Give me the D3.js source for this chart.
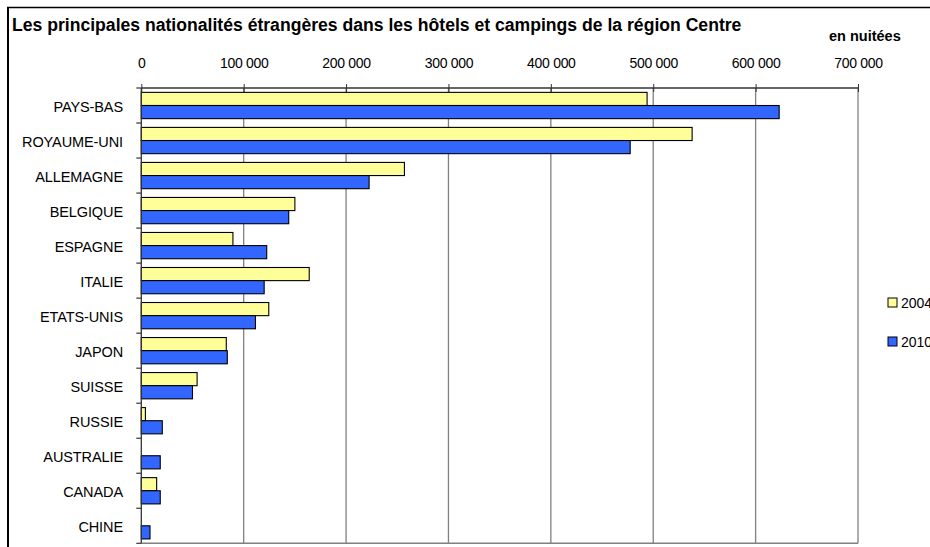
<!DOCTYPE html>
<html><head><meta charset="utf-8">
<script src="https://cdn.jsdelivr.net/npm/d3@7"></script>
<style>body{margin:0;background:#fff}svg{display:block}text{font-family:Arial,"Liberation Sans",sans-serif}</style>
</head><body><svg id="c" width="930" height="547"></svg>
<script>
const categories = ["PAYS-BAS","ROYAUME-UNI","ALLEMAGNE","BELGIQUE","ESPAGNE","ITALIE","ETATS-UNIS","JAPON","SUISSE","RUSSIE","AUSTRALIE","CANADA","CHINE"];
const values2004 = [494000,538000,257000,150000,89500,164000,124500,83000,54500,4000,0,15000,0];
const values2010 = [623000,477500,222500,144000,122500,120000,111500,84000,50000,20500,18500,18500,8500];
const seriesNames = ["2004","2010"];
const seriesColors = ["#FFFF99","#3366FF"];
const xTicks = [0,100000,200000,300000,400000,500000,600000,700000];
const title = "Les principales nationalités étrangères dans les hôtels et campings de la région Centre";
const unitLabel = "en nuitées";

const svg = d3.select("#c");
const L = 141.3, R = 858, T = 88, B = 543.3;
const x = d3.scaleLinear().domain([0,700000]).range([L,R]);
const y = d3.scaleBand().domain(categories).range([T,B]).paddingInner(0.25).paddingOuter(0.125);
const ySub = d3.scaleBand().domain(seriesNames).range([0,y.bandwidth()]);
const fmt = v => d3.format(",")(v).replace(/,/g," ");

// outer frame
svg.append("line").attr("x1",8).attr("x2",8).attr("y1",7).attr("y2",547).attr("stroke","#000").attr("stroke-width",2);
svg.append("line").attr("x1",7).attr("x2",930).attr("y1",7.5).attr("y2",7.5).attr("stroke","#000").attr("stroke-width",1.5);

// title
svg.append("text").attr("x",12).attr("y",30.5).attr("font-size",17.6).attr("font-weight","bold").text(title);
svg.append("text").attr("x",829).attr("y",40.5).attr("font-size",14.5).attr("font-weight","bold").text(unitLabel);

// gridlines
svg.append("g").selectAll("line").data(xTicks.slice(1)).join("line")
  .attr("x1",d=>x(d)).attr("x2",d=>x(d)).attr("y1",T).attr("y2",B)
  .attr("stroke","#808080").attr("stroke-width",1.3);
svg.append("line").attr("x1",L).attr("x2",R).attr("y1",B).attr("y2",B).attr("stroke","#808080").attr("stroke-width",1.5);

// bars
const g = svg.append("g");
categories.forEach((c,i)=>{
  [values2004[i], values2010[i]].forEach((v,k)=>{
    if (v<=0) return;
    g.append("rect").attr("x",x(0)).attr("y",y(c)+ySub(seriesNames[k]))
     .attr("width",x(v)-x(0)).attr("height",ySub.bandwidth())
     .attr("fill",seriesColors[k]).attr("stroke","#000").attr("stroke-width",1.1);
  });
});

// top axis
const xa = svg.append("g").attr("transform",`translate(0,${T})`)
  .call(d3.axisTop(x).tickValues(xTicks).tickFormat(fmt).tickSize(4).tickPadding(16));
xa.select(".domain").attr("stroke","#333").attr("stroke-width",1.3).attr("d",`M${L},0H${R}`);
xa.selectAll(".tick line").attr("stroke","#333").attr("y2",-4).attr("y1",4);
xa.selectAll(".tick text").attr("font-size",14).attr("fill","#000").attr("font-family","Arial, 'Liberation Sans', sans-serif").attr("letter-spacing","-0.3");

// left axis
svg.append("line").attr("x1",L).attr("x2",L).attr("y1",T).attr("y2",B).attr("stroke","#333").attr("stroke-width",1.3);
const bounds = categories.map(c=>y(c)-y.step()*y.paddingInner()/2).concat([B]);
svg.append("g").selectAll("line").data(bounds).join("line")
  .attr("x1",L-5).attr("x2",L).attr("y1",d=>d).attr("y2",d=>d).attr("stroke","#333").attr("stroke-width",1.2);
svg.append("g").selectAll("text").data(categories).join("text")
  .attr("x",123).attr("y",d=>y(d)+y.bandwidth()/2+6).attr("text-anchor","end")
  .attr("font-size",14.5).attr("letter-spacing","-0.1").text(d=>d);

// legend
const leg = svg.append("g");
seriesNames.forEach((s,k)=>{
  const yy = 298 + k*39;
  leg.append("rect").attr("x",888).attr("y",yy).attr("width",9).attr("height",9)
    .attr("fill",seriesColors[k]).attr("stroke","#000").attr("stroke-width",1);
  leg.append("text").attr("x",901).attr("y",yy+10).attr("font-size",14).text(s);
});
</script></body></html>
